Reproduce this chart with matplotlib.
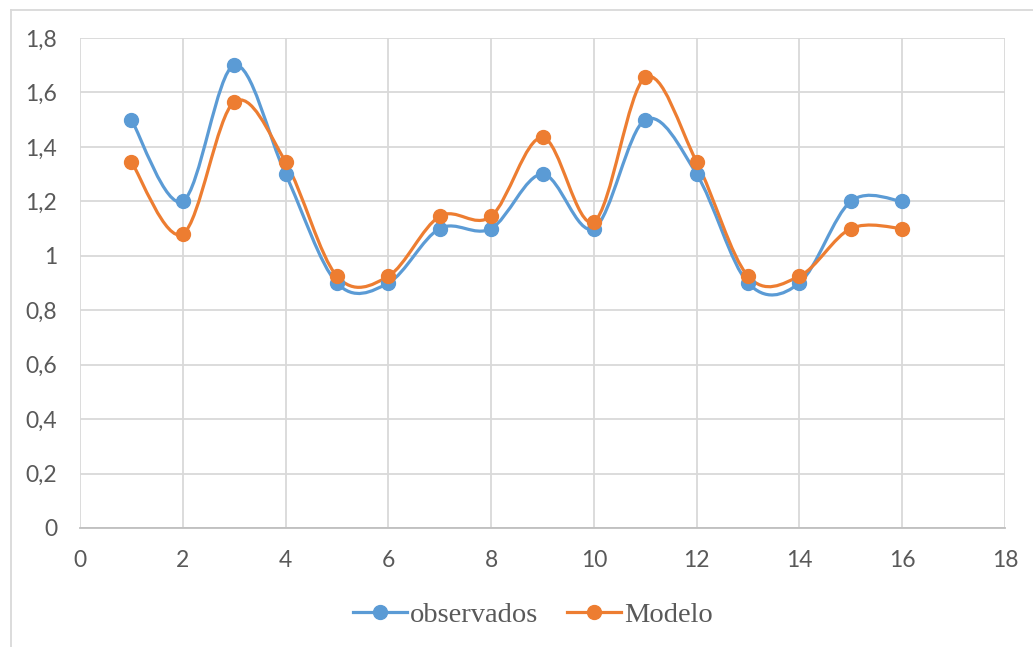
import numpy as np
import matplotlib
matplotlib.use("Agg")
import matplotlib.pyplot as plt
from matplotlib.path import Path
from matplotlib.patches import PathPatch
from matplotlib.lines import Line2D

x_vals = [1, 2, 3, 4, 5, 6, 7, 8, 9, 10, 11, 12, 13, 14, 15, 16]
observados = [1.5, 1.2, 1.7, 1.3, 0.9, 0.9, 1.1, 1.1, 1.3, 1.1, 1.5, 1.3, 0.9, 0.9, 1.2, 1.2]
modelo = [1.345, 1.08, 1.565, 1.345, 0.925, 0.925, 1.145, 1.145, 1.435, 1.125,
          1.655, 1.345, 0.925, 0.925, 1.10, 1.10]

x_ticks = [0, 2, 4, 6, 8, 10, 12, 14, 16, 18]
y_ticks = [0, 0.2, 0.4, 0.6, 0.8, 1.0, 1.2, 1.4, 1.6, 1.8]
y_labels = ["0", "0,2", "0,4", "0,6", "0,8", "1", "1,2", "1,4", "1,6", "1,8"]

BLUE = "#5B9BD5"
ORANGE = "#ED7D31"
GRID = "#D9D9D9"
TEXT = "#595959"


def smooth_path(xs, ys):
    """Cubic Bezier through the points, Catmull-Rom style tangents."""
    pts = np.column_stack([xs, ys]).astype(float)
    n = len(pts)
    verts = [pts[0]]
    codes = [Path.MOVETO]
    for i in range(n - 1):
        p0 = pts[i - 1] if i > 0 else pts[i]
        p1 = pts[i]
        p2 = pts[i + 1]
        p3 = pts[i + 2] if i + 2 < n else pts[i + 1]
        c1 = p1 + (p2 - p0) / 6.0
        c2 = p2 - (p3 - p1) / 6.0
        verts += [c1, c2, p2]
        codes += [Path.CURVE4] * 3
    return Path(verts, codes)


fig = plt.figure(figsize=(10.33, 6.47), dpi=100)
ax = fig.add_axes([80 / 1033, 119 / 647, 925 / 1033, 490 / 647])

ax.set_xlim(0, 18)
ax.set_ylim(0, 1.8)
ax.set_xticks(x_ticks)
ax.set_xticklabels([str(t) for t in x_ticks])
ax.set_yticks(y_ticks)
ax.set_yticklabels(y_labels)

ax.grid(True, color=GRID, linewidth=1.3)
ax.set_axisbelow(True)
for side in ["top", "right", "left"]:
    ax.spines[side].set_visible(False)
ax.spines["bottom"].set_color("#BFBFBF")
ax.spines["bottom"].set_linewidth(1.3)
ax.tick_params(length=0, labelsize=16.5, labelcolor=TEXT)
ax.tick_params(axis="y", pad=16.5)
ax.tick_params(axis="x", pad=16)
for lab in ax.get_xticklabels() + ax.get_yticklabels():
    lab.set_fontfamily(["Lato", "DejaVu Sans"])

for ys, color in [(observados, BLUE), (modelo, ORANGE)]:
    patch = PathPatch(smooth_path(x_vals, ys), facecolor="none", edgecolor=color,
                      linewidth=2.3, capstyle="round", joinstyle="round", zorder=3)
    ax.add_patch(patch)
    ax.plot(x_vals, ys, linestyle="none", marker="o", markersize=10,
            color=color, zorder=4, clip_on=False)

handles = [
    Line2D([], [], color=BLUE, linewidth=2.3, marker="o", markersize=10),
    Line2D([], [], color=ORANGE, linewidth=2.3, marker="o", markersize=10),
]
leg = fig.legend(handles, ["observados", "Modelo"], loc="center",
                 bbox_to_anchor=(533 / 1033, 1 - 615 / 647), ncol=2, frameon=False,
                 prop={"family": "Liberation Serif", "size": 20.5},
                 handlelength=1.9, handletextpad=0.1, columnspacing=1.0)
for t in leg.get_texts():
    t.set_color(TEXT)

# outer chart border
fig.add_artist(Line2D([11 / 1033, 11 / 1033], [0, 1 - 10 / 647],
                      transform=fig.transFigure, color="#D9D9D9", linewidth=1.3))
fig.add_artist(Line2D([11 / 1033, 1], [1 - 10 / 647, 1 - 10 / 647],
                      transform=fig.transFigure, color="#D9D9D9", linewidth=1.3))

fig.savefig("out.png", dpi=100, facecolor="white")
